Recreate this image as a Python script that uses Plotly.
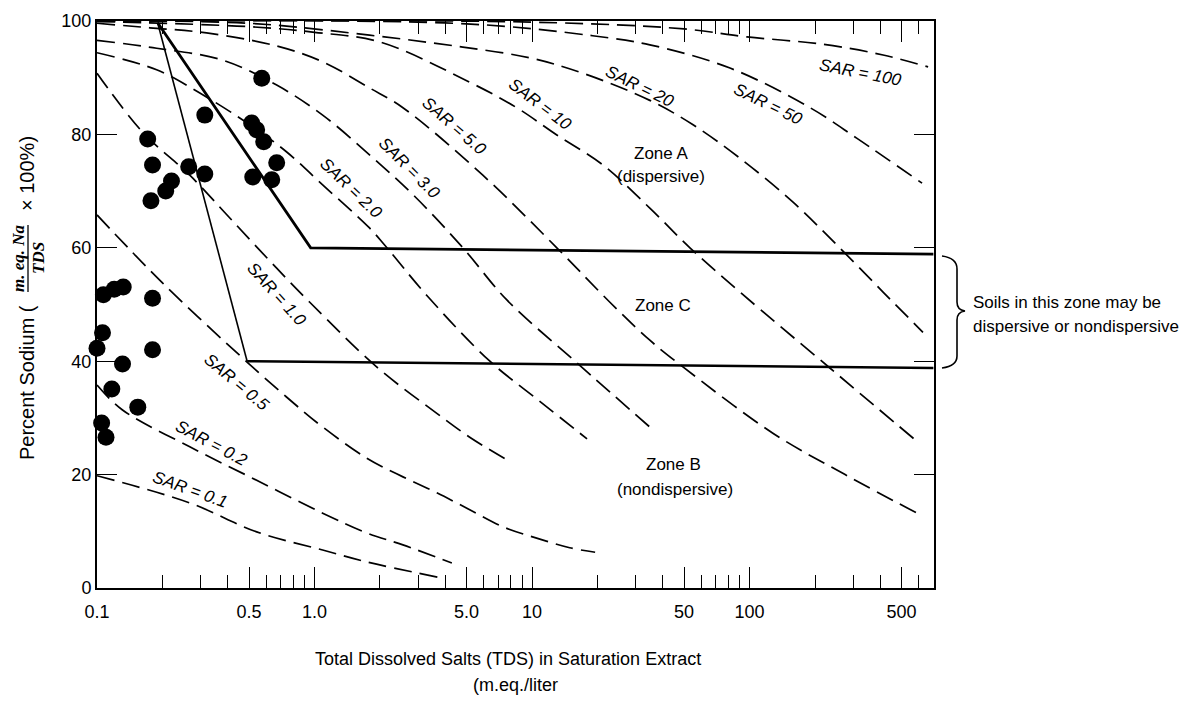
import math
import plotly.graph_objects as go

# ---------------- data ----------------
# SAR iso-lines: total dissolved salts (m.eq./l) and percent sodium
sar01_tds = [0.1, 0.267, 0.542, 1.09, 1.74, 3.7]
sar01_na = [19.8, 15.0, 9.9, 6.7, 4.6, 1.9]

sar02_tds = [0.1, 0.131, 0.267, 0.542, 1.09, 1.74, 2.55, 4.28]
sar02_na = [35.8, 31.4, 24.9, 19.0, 13.2, 9.7, 7.6, 4.4]

sar05_tds = [0.1, 0.2, 0.488, 0.769, 1.09, 1.74, 2.55, 3.65, 5.17, 7.34, 10.5, 14.9, 19.5]
sar05_na = [65.8, 53.8, 39.9, 33.2, 28.4, 22.9, 19.6, 16.8, 13.8, 10.8, 8.8, 7.1, 6.3]

sar1_tds = [0.1, 0.162, 0.267, 0.407, 0.670, 0.951, 1.93, 3.65, 5.17, 7.66]
sar1_na = [90.8, 80.4, 72.8, 65.3, 56.4, 50.4, 39.0, 30.8, 26.6, 22.6]

sar2_tds = [0.1, 0.188, 0.297, 0.504, 0.745, 1.09, 1.79, 2.10, 3.3, 6.40, 10.8, 17.9]
sar2_na = [94.4, 91.4, 87.3, 81.7, 76.9, 71.1, 63.5, 60.5, 51.5, 40.0, 33.0, 26.3]

sar3_tds = [0.1, 0.188, 0.378, 0.670, 1.09, 1.79, 2.9, 4.81, 7.66, 16.1, 35.0]
sar3_na = [96.6, 95.2, 93.1, 88.7, 83.4, 76.4, 69.0, 60.0, 50.8, 39.7, 28.3]

sar5_tds = [0.1, 0.175, 0.319, 0.670, 1.09, 1.79, 2.55, 5.94, 13.0, 22.8, 34.8, 49.4, 128, 275, 589]
sar5_na = [99.6, 98.8, 97.9, 95.6, 92.8, 88.2, 84.7, 72.8, 60.0, 50.4, 43.7, 39.0, 27.3, 20.0, 13.2]

sar10_tds = [0.1, 0.5, 1.0, 2.0, 5.17, 8.51, 13.0, 21.2, 34.8, 53.2, 90.3, 234, 595]
sar10_na = [99.9, 99.0, 98.0, 96.3, 89.2, 84.7, 79.9, 74.6, 67.0, 60.0, 52.2, 38.8, 25.7]

sar20_tds = [0.1, 0.5, 1.79, 4.81, 9.77, 17.1, 34.8, 55.0, 90.3, 158, 252, 411, 627]
sar20_na = [100, 99.6, 97.5, 95.4, 93.5, 90.8, 86.0, 81.7, 75.8, 68.1, 60.5, 52.2, 45.1]

sar50_tds = [0.1, 5.0, 19.0, 34.8, 81.3, 190, 312, 621]
sar50_na = [100, 99.5, 97.4, 95.8, 91.7, 84.7, 79.3, 71.4]

sar100_tds = [0.1, 10, 50, 97.3, 217, 411, 662]
sar100_na = [100, 99.8, 98.6, 97.2, 95.9, 94.0, 91.9]

sar_names = ["SAR = 0.1", "SAR = 0.2", "SAR = 0.5", "SAR = 1.0", "SAR = 2.0", "SAR = 3.0",
             "SAR = 5.0", "SAR = 10", "SAR = 20", "SAR = 50", "SAR = 100"]
# where each curve label sits (tds, % sodium) and its slant
sar_label_tds = [0.267, 0.337, 0.439, 0.670, 1.48, 2.74, 4.41, 10.9, 31.3, 122, 322]
sar_label_na = [17.3, 25.4, 36.2, 51.7, 70.5, 74.0, 81.4, 85.2, 88.5, 85.2, 91.0]
sar_label_angle = [20, 28, 40, 48, 44, 45, 41, 37, 26, 26, 11]

# zone boundaries
zone_a_tds = [0.19, 0.96, 700]
zone_a_na = [99.7, 60.0, 58.9]
zone_left_tds = [0.19, 0.49]
zone_left_na = [99.7, 40.0]
zone_b_tds = [0.49, 700]
zone_b_na = [40.0, 38.8]

# soil samples
sample_tds = [0.572, 0.313, 0.514, 0.542, 0.584, 0.171, 0.180, 0.670, 0.264, 0.313,
              0.520, 0.636, 0.220, 0.207, 0.177, 0.107, 0.120, 0.132, 0.180, 0.106,
              0.100, 0.180, 0.131, 0.117, 0.154, 0.105, 0.110]
sample_na = [89.9, 83.4, 82.0, 80.8, 78.7, 79.2, 74.6, 75.0, 74.3, 73.0,
             72.5, 72.0, 71.8, 70.0, 68.3, 51.7, 52.7, 53.1, 51.1, 45.0,
             42.3, 42.0, 39.5, 35.1, 31.9, 29.1, 26.6]

x_tick_vals = [0.1, 0.5, 1, 5, 10, 50, 100, 500]
x_tick_text = ["0.1", "0.5", "1.0", "5.0", "10", "50", "100", "500"]
x_minor_vals = [0.2, 0.3, 0.4, 0.6, 0.7, 0.8, 0.9, 2, 3, 4, 6, 7, 8, 9,
                20, 30, 40, 60, 70, 80, 90, 200, 300, 400, 600]
y_tick_vals = [0, 20, 40, 60, 80, 100]

# ---------------- figure ----------------
W, H = 1185, 702
PL, PR, PT, PB = 97, 934, 21, 588          # plot area in page pixels
SANS = "Liberation Sans, Arial, sans-serif"
SERIF = "Liberation Serif, Times New Roman, serif"


def px_x(x):
    return (x - PL) / (PR - PL)


def px_y(y):
    return (PB - y) / (PB - PT)


fig = go.Figure()

curves = [(sar01_tds, sar01_na), (sar02_tds, sar02_na), (sar05_tds, sar05_na),
          (sar1_tds, sar1_na), (sar2_tds, sar2_na), (sar3_tds, sar3_na),
          (sar5_tds, sar5_na), (sar10_tds, sar10_na), (sar20_tds, sar20_na),
          (sar50_tds, sar50_na), (sar100_tds, sar100_na)]
for name, (xs, ys) in zip(sar_names, curves):
    fig.add_trace(go.Scatter(x=xs, y=ys, mode="lines", name=name,
                             line=dict(color="black", width=1.7, dash="18px,8px",
                                       shape="spline", smoothing=1.0),
                             showlegend=False, hoverinfo="skip"))

fig.add_trace(go.Scatter(x=zone_a_tds, y=zone_a_na, mode="lines",
                         line=dict(color="black", width=2.8), showlegend=False))
fig.add_trace(go.Scatter(x=zone_left_tds, y=zone_left_na, mode="lines",
                         line=dict(color="black", width=1.6), showlegend=False))
fig.add_trace(go.Scatter(x=zone_b_tds, y=zone_b_na, mode="lines",
                         line=dict(color="black", width=2.6), showlegend=False))

fig.add_trace(go.Scatter(x=sample_tds, y=sample_na, mode="markers",
                         marker=dict(color="black", size=17, line=dict(width=0)),
                         showlegend=False, cliponaxis=False))

ann = []
for name, lx, ly, ang in zip(sar_names, sar_label_tds, sar_label_na, sar_label_angle):
    ann.append(dict(x=math.log10(lx), y=ly, xref="x", yref="y", text="<i>" + name + "</i>",
                    textangle=ang, showarrow=False, xanchor="center", yanchor="middle",
                    font=dict(family=SANS, size=17, color="black")))


def txt(text, x, y, size=17, angle=0, family=SANS, xanchor="center"):
    ann.append(dict(x=px_x(x), y=px_y(y), xref="paper", yref="paper", text=text,
                    showarrow=False, textangle=angle, xanchor=xanchor, yanchor="middle",
                    font=dict(family=family, size=size, color="black")))


txt("Zone A", 661, 153)
txt("(dispersive)", 661, 176)
txt("Zone C", 663, 305)
txt("Zone B", 673, 464)
txt("(nondispersive)", 675, 489)
txt("Soils in this zone may be", 971, 302, xanchor="left")
txt("dispersive or nondispersive", 971, 326, xanchor="left")
txt("Total Dissolved Salts (TDS) in Saturation Extract", 508, 659, size=18)
txt("(m.eq./liter", 515, 685, size=18)
# y axis title pieces
txt("Percent Sodium (", 27, 383, size=20, angle=-90)
txt("<b><i>m. eq. Na</i></b>", 18, 258, size=17, angle=-90, family=SERIF)
txt("<b><i>TDS</i></b>", 38, 258, size=17, angle=-90, family=SERIF)
txt("× 100%)", 27, 174, size=20, angle=-90)


def path_from(points):
    s = ""
    for cmd, pts in points:
        s += cmd + " " + " ".join(f"{px_x(a):.5f},{px_y(b):.5f}" for a, b in pts) + " "
    return s.strip()


brace = path_from([("M", [(942, 256)]), ("Q", [(957, 258), (957, 269)]),
                   ("L", [(957, 302)]), ("Q", [(957, 310), (965, 311)]),
                   ("Q", [(957, 312), (957, 320)]), ("L", [(957, 356)]),
                   ("Q", [(957, 366), (942, 368)])])

shapes = [
    dict(type="path", path=brace, xref="paper", yref="paper",
         line=dict(color="black", width=1.6)),
    dict(type="line", xref="paper", yref="paper", x0=px_x(28), x1=px_x(28),
         y0=px_y(225), y1=px_y(292), line=dict(color="black", width=1.3)),
]

axis_common = dict(showline=True, linecolor="black", linewidth=2, mirror="ticks",
                   ticks="inside", tickcolor="black", showgrid=False, zeroline=False,
                   tickfont=dict(family=SANS, size=18, color="black"))

fig.update_layout(
    width=W, height=H,
    margin=dict(l=PL, r=W - PR, t=PT, b=H - PB, pad=0),
    paper_bgcolor="white", plot_bgcolor="white",
    showlegend=False,
    xaxis=dict(type="log", range=[-1.0, 2.848], tickmode="array",
               tickvals=x_tick_vals, ticktext=x_tick_text, ticklen=21, tickwidth=1.4,
               ticklabelstandoff=6,
               minor=dict(tickmode="array", tickvals=x_minor_vals, ticklen=13,
                          tickwidth=1.3, tickcolor="black", ticks="inside"),
               **axis_common),
    yaxis=dict(range=[0, 100], tickmode="array", tickvals=y_tick_vals, ticklen=20,
               tickwidth=1.4, **axis_common),
    annotations=ann,
    shapes=shapes,
)

fig.write_html("out.html", config={"displayModeBar": False},
               post_script="document.body.style.margin='0';")
